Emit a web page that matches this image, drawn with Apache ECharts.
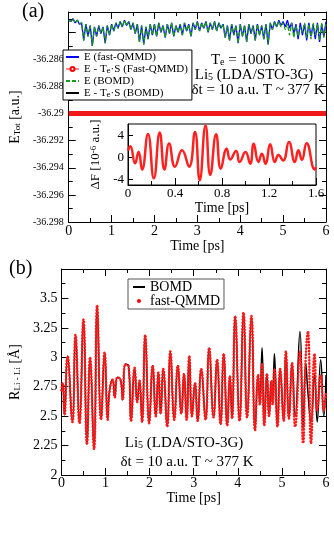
<!DOCTYPE html>
<html>
<head>
<meta charset="utf-8">
<script src="https://cdn.jsdelivr.net/npm/echarts@6/dist/echarts.min.js"></script>
<style>
html, body { margin: 0; padding: 0; background: #fff; }
#main { width: 334px; height: 542px; }
</style>
</head>
<body>
<div id="main"></div>
<script>
// (a) total energy, one value every 0.05 ps
var dtE = 0.05;
var eFast = [
    -36.2831, -36.2832, -36.2830, -36.2833, -36.2831, -36.2834, -36.2833, -36.2846, -36.2834, -36.2843,
    -36.2835, -36.2850, -36.2836, -36.2843, -36.2835, -36.2841, -36.2836, -36.2848, -36.2835, -36.2842,
    -36.2834, -36.2839, -36.2833, -36.2837, -36.2832, -36.2836, -36.2831, -36.2835, -36.2832, -36.2838,
    -36.2833, -36.2841, -36.2834, -36.2847, -36.2835, -36.2849, -36.2836, -36.2845, -36.2834, -36.2842,
    -36.2834, -36.2843, -36.2833, -36.2840, -36.2835, -36.2844, -36.2834, -36.2841, -36.2833, -36.2843,
    -36.2835, -36.2840, -36.2834, -36.2842, -36.2833, -36.2839, -36.2834, -36.2843, -36.2833, -36.2838,
    -36.2832, -36.2839, -36.2833, -36.2837, -36.2832, -36.2840, -36.2833, -36.2838, -36.2832, -36.2839,
    -36.2833, -36.2837, -36.2834, -36.2844, -36.2835, -36.2846, -36.2834, -36.2842, -36.2835, -36.2848,
    -36.2834, -36.2843, -36.2835, -36.2847, -36.2834, -36.2841, -36.2835, -36.2846, -36.2834, -36.2842,
    -36.2835, -36.2845, -36.2834, -36.2849, -36.2833, -36.2838, -36.2832, -36.2836, -36.2831, -36.2835,
    -36.2832, -36.2836, -36.2831, -36.2837, -36.2833, -36.2841, -36.2834, -36.2845, -36.2833, -36.2842,
    -36.2834, -36.2846, -36.2833, -36.2843, -36.2834, -36.2845, -36.2833, -36.2847, -36.2834, -36.2843,
    -36.2832
];
var eBomd = [
    -36.2831, -36.2832, -36.2830, -36.2833, -36.2831, -36.2834, -36.2833, -36.2846, -36.2834, -36.2843,
    -36.2835, -36.2850, -36.2836, -36.2843, -36.2835, -36.2841, -36.2836, -36.2848, -36.2835, -36.2842,
    -36.2834, -36.2839, -36.2833, -36.2837, -36.2832, -36.2836, -36.2831, -36.2835, -36.2832, -36.2838,
    -36.2833, -36.2841, -36.2834, -36.2847, -36.2835, -36.2849, -36.2836, -36.2845, -36.2834, -36.2842,
    -36.2834, -36.2843, -36.2833, -36.2840, -36.2835, -36.2844, -36.2834, -36.2841, -36.2833, -36.2843,
    -36.2835, -36.2840, -36.2834, -36.2842, -36.2833, -36.2839, -36.2834, -36.2843, -36.2833, -36.2838,
    -36.2832, -36.2839, -36.2833, -36.2837, -36.2832, -36.2840, -36.2833, -36.2838, -36.2832, -36.2839,
    -36.2833, -36.2837, -36.2834, -36.2844, -36.2835, -36.2846, -36.2834, -36.2842, -36.2835, -36.2848,
    -36.2834, -36.2843, -36.2835, -36.2847, -36.2834, -36.2841, -36.2835, -36.2846, -36.2834, -36.2842,
    -36.2835, -36.2845, -36.2834, -36.2849, -36.2833, -36.2838, -36.2832, -36.2836, -36.2832, -36.2836,
    -36.2833, -36.2838, -36.2834, -36.2842, -36.2833, -36.2844, -36.2835, -36.2843, -36.2836, -36.2840,
    -36.2833, -36.2844, -36.2834, -36.2845, -36.2833, -36.2842, -36.2834, -36.2846, -36.2833, -36.2844,
    -36.2834
];
// E - Te*S, flat line
var tsTime = [0, 1, 2, 3, 4, 5, 6];
var eTsFast = [-36.2900, -36.2900, -36.2900, -36.2900, -36.2900, -36.2900, -36.2900];
var eTsBomd = [-36.2900, -36.2900, -36.2900, -36.2900, -36.2900, -36.2900, -36.2900];

// inset: dF in 1e-6 a.u.
var dfTime = [0.00, 0.02, 0.06, 0.09, 0.12, 0.17, 0.22, 0.27, 0.31, 0.35, 0.40, 0.46, 0.52, 0.57, 0.61, 0.66, 0.70, 0.75, 0.79, 0.84,
    0.87, 0.92, 0.95, 1.00, 1.04, 1.07, 1.11, 1.14, 1.17, 1.21, 1.25, 1.28, 1.32, 1.37, 1.42, 1.45, 1.48, 1.52, 1.59, 1.60];
var dfVal = [1.2, 2.0, -1.1, 1.0, -2.2, 4.2, -3.8, 4.45, -2.2, 2.5, -1.7, 1.25, -1.7, 4.55, -4.15, 5.75, -3.2, 4.15, -2.05, 1.55,
    -0.4, 1.15, -0.85, 0.95, -1.15, 2.45, -0.85, 0.65, -1.15, 2.35, -0.85, 0.4, -0.6, 2.75, -0.85, 1.25, -0.45, 2.55, -2.2, -1.8];

// (b) Li-Li distance
var rTime = [0.00, 0.03, 0.07, 0.14, 0.25, 0.32, 0.41, 0.50, 0.58, 0.65, 0.74, 0.81, 0.90, 0.98, 1.05,
    1.09, 1.16, 1.21, 1.27, 1.34, 1.39, 1.45, 1.52, 1.58, 1.66, 1.72, 1.77, 1.83, 1.90, 1.99,
    2.07, 2.14, 2.20, 2.25, 2.31, 2.40, 2.47, 2.56, 2.64, 2.72, 2.78, 2.84, 2.90, 2.96, 3.03,
    3.09, 3.17, 3.27, 3.35, 3.45, 3.53, 3.61, 3.68, 3.76, 3.82, 3.87, 3.94, 4.04, 4.13, 4.21,
    4.31, 4.39, 4.46, 4.50, 4.55, 4.60, 4.66, 4.71, 4.76, 4.79, 4.83, 4.90, 4.96, 5.04, 5.09,
    5.16, 5.23, 5.30, 5.41, 5.48, 5.54, 5.59, 5.66, 5.74, 5.80, 5.88, 5.95, 6.00];
var rBomd = [2.72, 2.78, 2.51, 3.01, 2.45, 3.19, 2.44, 3.32, 2.26, 3.00, 2.22, 3.44, 2.47, 3.04, 2.47,
    2.71, 2.81, 2.66, 2.83, 2.81, 2.64, 2.94, 2.93, 2.46, 2.91, 2.62, 2.80, 2.45, 3.19, 2.44,
    2.93, 2.50, 2.87, 2.52, 2.90, 2.41, 3.05, 2.47, 2.93, 2.52, 2.86, 2.47, 3.01, 2.50, 2.78,
    2.46, 2.90, 2.47, 3.08, 2.49, 2.98, 2.43, 3.03, 2.42, 2.84, 2.48, 3.35, 2.46, 3.38, 2.49,
    3.35, 2.38, 2.85, 2.60, 3.08, 2.42, 2.86, 2.50, 2.80, 2.60, 3.03, 2.41, 2.90, 2.46, 3.05,
    2.48, 2.95, 2.50, 3.22, 2.39, 2.95, 2.70, 2.45, 2.85, 2.45, 2.98, 2.50, 2.85];
var rQmmd = [2.72, 2.78, 2.51, 3.01, 2.45, 3.19, 2.44, 3.32, 2.26, 3.00, 2.22, 3.44, 2.47, 3.04, 2.47,
    2.71, 2.81, 2.66, 2.83, 2.81, 2.64, 2.94, 2.93, 2.46, 2.91, 2.62, 2.80, 2.45, 3.19, 2.44,
    2.93, 2.50, 2.87, 2.52, 2.90, 2.41, 3.05, 2.47, 2.93, 2.52, 2.86, 2.47, 3.01, 2.50, 2.78,
    2.46, 2.90, 2.47, 3.08, 2.49, 2.98, 2.43, 3.03, 2.42, 2.84, 2.48, 3.35, 2.46, 3.38, 2.49,
    3.35, 2.38, 2.85, 2.60, 2.95, 2.42, 2.86, 2.50, 2.80, 2.60, 2.90, 2.41, 2.90, 2.46, 3.05,
    2.48, 2.95, 2.41, 3.05, 2.27, 3.00, 3.22, 2.27, 3.03, 2.55, 2.85, 2.55, 2.70];

var SERIF = '"Liberation Serif", "DejaVu Serif", serif';

function pairs(xs, ys) {
    return ys.map(function (v, i) { return [xs[i], v]; });
}
function stepPairs(step, ys) {
    return ys.map(function (v, i) { return [+(i * step).toFixed(2), v]; });
}

// axis with inward ticks, xmgrace style
function frameAxis(o) {
    var ax = {
        type: 'value',
        gridIndex: o.grid,
        position: o.pos,
        min: o.min,
        max: o.max,
        interval: o.interval,
        axisLine: { show: true, onZero: false, lineStyle: { color: '#000', width: 1 } },
        axisTick: { show: true, inside: true, length: 7, lineStyle: { color: '#000' } },
        minorTick: { show: o.minor !== undefined, splitNumber: o.minor || 2, length: 4, lineStyle: { color: '#000' } },
        splitLine: { show: false },
        axisLabel: { show: !!o.labels, color: '#000', fontFamily: SERIF, fontSize: o.fontSize || 13, margin: o.margin || 3, formatter: o.formatter },
        name: o.name,
        nameLocation: 'middle',
        nameGap: o.nameGap,
        nameRotate: o.nameRotate,
        nameTextStyle: o.nameStyle
    };
    return ax;
}

var subRich = {
    s: { fontFamily: SERIF, fontSize: 9, verticalAlign: 'bottom', lineHeight: 9, color: '#000' },
    p: { fontFamily: SERIF, fontSize: 9, verticalAlign: 'top', lineHeight: 9, color: '#000' }
};
var noDot = { opacity: 0 };

var myChart = echarts.init(document.getElementById('main'));

var option = {
    animation: false,
    backgroundColor: '#fff',
    grid: [
        { left: 57, top: 12, width: 269, height: 210 },
        { left: 128, top: 124, width: 188, height: 61, show: true, backgroundColor: '#fff', borderColor: '#000', borderWidth: 1 },
        { left: 52, top: 269, width: 274, height: 206 }
    ],
    xAxis: [
        frameAxis({ grid: 0, pos: 'bottom', min: 0, max: 6, interval: 1, minor: 2, labels: true, fontSize: 14, margin: 2,
            name: 'Time [ps]', nameGap: 9, nameStyle: { fontFamily: SERIF, fontSize: 14, color: '#000' } }),
        frameAxis({ grid: 0, pos: 'top', min: 0, max: 6, interval: 1, minor: 2 }),
        frameAxis({ grid: 1, pos: 'bottom', min: 0, max: 1.6, interval: 0.4, minor: 2, labels: true, fontSize: 13, margin: 2,
            name: 'Time [ps]', nameGap: 15, nameStyle: { fontFamily: SERIF, fontSize: 14, color: '#000' } }),
        frameAxis({ grid: 2, pos: 'bottom', min: 0, max: 6, interval: 1, minor: 2, labels: true, fontSize: 14, margin: 1,
            name: 'Time [ps]', nameGap: 15, nameStyle: { fontFamily: SERIF, fontSize: 14, color: '#000' } }),
        frameAxis({ grid: 2, pos: 'top', min: 0, max: 6, interval: 1, minor: 2 })
    ],
    yAxis: [
        frameAxis({ grid: 0, pos: 'left', min: -36.298, max: -36.2825, interval: 0.002, minor: 2, labels: true, fontSize: 10, margin: 5,
            formatter: function (v) { return v > -36.2855 ? '' : String(+v.toFixed(3)); },
            name: 'E{s|Tot} [a.u.]', nameGap: 44, nameRotate: 90,
            nameStyle: { fontFamily: SERIF, fontSize: 14, color: '#000', rich: subRich } }),
        frameAxis({ grid: 0, pos: 'right', min: -36.298, max: -36.2825, interval: 0.002, minor: 2 }),
        (function () {
            var ax = frameAxis({ grid: 1, pos: 'left', min: -5, max: 6, labels: true, fontSize: 13, margin: 4,
                name: 'ΔF [10{p|-6} a.u.]', nameGap: 15, nameRotate: 90,
                nameStyle: { fontFamily: SERIF, fontSize: 13, color: '#000', rich: subRich } });
            ax.axisLabel.customValues = [-4, 0, 4];
            ax.axisTick.customValues = [-4, 0, 4];
            ax.axisTick.length = 5;
            ax.minorTick.show = false;
            return ax;
        })(),
        frameAxis({ grid: 2, pos: 'left', min: 2, max: 3.75, interval: 0.25, minor: 2, labels: true, fontSize: 14, margin: 4,
            formatter: function (v) { return v > 3.6 ? '' : String(+v.toFixed(2)); },
            name: 'R{s|Li - Li} [Å]', nameGap: 36, nameRotate: 90,
            nameStyle: { fontFamily: SERIF, fontSize: 14, color: '#000', rich: subRich } }),
        frameAxis({ grid: 2, pos: 'right', min: 2, max: 3.75, interval: 0.25, minor: 2 })
    ],
    legend: [
        {
            left: 63, top: 50, orient: 'vertical', itemGap: 0, itemWidth: 13, itemHeight: 5,
            padding: [1, 4, 1, 2], borderColor: '#000', borderWidth: 1, backgroundColor: '#fff',
            textStyle: { fontFamily: SERIF, fontSize: 11, lineHeight: 12, color: '#000', rich: subRich },
            formatter: function (name) { return name.replace('Te·S', 'T{s|e}·S'); },
            data: [
                { name: 'E (fast-QMMD)', itemStyle: noDot },
                { name: 'E - Te·S (Fast-QMMD)', lineStyle: { width: 1 } },
                { name: 'E (BOMD)', itemStyle: noDot },
                { name: 'E - Te·S (BOMD)', itemStyle: noDot }
            ]
        },
        {
            left: 128, top: 279, orient: 'vertical', itemGap: 0, itemWidth: 12, itemHeight: 4,
            padding: [1, 4, 1, 4], borderColor: '#555', borderWidth: 1, backgroundColor: '#fff',
            textStyle: { fontFamily: SERIF, fontSize: 14, lineHeight: 12, color: '#000' },
            data: [
                { name: 'BOMD', itemStyle: noDot },
                { name: 'fast-QMMD', icon: 'circle' }
            ]
        }
    ],
    series: [
        {
            name: 'E - Te·S (BOMD)', type: 'line', xAxisIndex: 0, yAxisIndex: 0,
            data: pairs(tsTime, eTsBomd), showSymbol: false, symbol: 'none',
            color: '#000', lineStyle: { width: 1, color: '#000' }
        },
        {
            name: 'E - Te·S (Fast-QMMD)', type: 'line', xAxisIndex: 0, yAxisIndex: 0,
            data: pairs(tsTime, eTsFast), symbol: 'emptyCircle', symbolSize: 5, showSymbol: false,
            color: '#ff0000', lineStyle: { width: 5, color: '#f01818' }
        },
        {
            name: 'E (fast-QMMD)', type: 'line', xAxisIndex: 0, yAxisIndex: 0,
            data: stepPairs(dtE, eFast), symbol: 'none',
            color: '#0000ff', lineStyle: { width: 1.3, color: '#0000ff' }
        },
        {
            name: 'E (BOMD)', type: 'line', xAxisIndex: 0, yAxisIndex: 0,
            data: stepPairs(dtE, eBomd), symbol: 'none',
            color: '#1a9a1a', lineStyle: { width: 1.3, color: '#1a9a1a', type: [4, 2] }
        },
        {
            name: 'dF', type: 'line', xAxisIndex: 2, yAxisIndex: 2,
            data: pairs(dfTime, dfVal), symbol: 'none', smooth: 0.5,
            color: '#ff0000', lineStyle: { width: 2.5, color: '#ff2020' }
        },
        {
            name: 'BOMD', type: 'line', xAxisIndex: 3, yAxisIndex: 3,
            data: pairs(rTime, rBomd), symbol: 'none', smooth: 0.5,
            color: '#000', lineStyle: { width: 1.5, color: '#000' }
        },
        {
            name: 'fast-QMMD', type: 'line', xAxisIndex: 3, yAxisIndex: 3,
            data: pairs(rTime, rQmmd), symbol: 'none', smooth: 0.5,
            color: '#ff0000', lineStyle: { width: 2.5, color: '#ff1a1a', type: [0.3, 2.8], cap: 'round' }
        }
    ],
    graphic: [
        { type: 'text', x: 22, y: 2, style: { text: '(a)', fontFamily: SERIF, fontSize: 20, fill: '#000' } },
        { type: 'text', x: 9, y: 259, style: { text: '(b)', fontFamily: SERIF, fontSize: 20, fill: '#000' } },
        { type: 'text', x: 248, y: 60, style: { text: 'T{s|e} = 1000 K', fontFamily: SERIF, fontSize: 15, fill: '#000',
            align: 'center', verticalAlign: 'middle', rich: { s: { fontFamily: SERIF, fontSize: 10, verticalAlign: 'bottom', lineHeight: 10 } } } },
        { type: 'text', x: 254, y: 75, style: { text: 'Li{s|5} (LDA/STO-3G)', fontFamily: SERIF, fontSize: 15, fill: '#000',
            align: 'center', verticalAlign: 'middle', rich: { s: { fontFamily: SERIF, fontSize: 10, verticalAlign: 'bottom', lineHeight: 10 } } } },
        { type: 'text', x: 258, y: 90, style: { text: 'δt = 10 a.u. T ~ 377 K', fontFamily: SERIF, fontSize: 15, fill: '#000',
            align: 'center', verticalAlign: 'middle' } },
        { type: 'text', x: 184, y: 443, style: { text: 'Li{s|5} (LDA/STO-3G)', fontFamily: SERIF, fontSize: 15, fill: '#000',
            align: 'center', verticalAlign: 'middle', rich: { s: { fontFamily: SERIF, fontSize: 10, verticalAlign: 'bottom', lineHeight: 10 } } } },
        { type: 'text', x: 187, y: 462, style: { text: 'δt = 10 a.u. T ~ 377 K', fontFamily: SERIF, fontSize: 15, fill: '#000',
            align: 'center', verticalAlign: 'middle' } }
    ]
};

myChart.setOption(option);
</script>
</body>
</html>
